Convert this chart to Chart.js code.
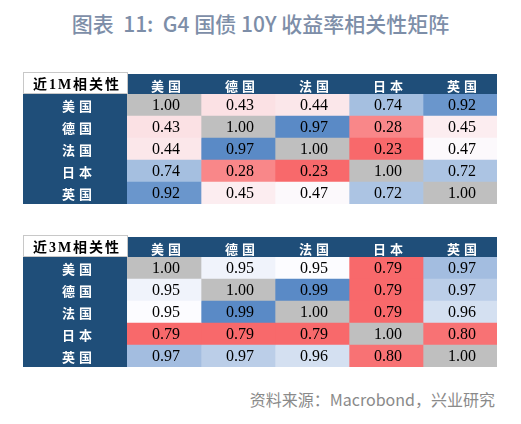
<!DOCTYPE html>
<html>
<head>
<meta charset="utf-8">
<script src="https://cdn.jsdelivr.net/npm/chart.js@4.4.0/dist/chart.umd.min.js"></script>
<style>
body { margin: 0; width: 521px; height: 424px; background: #fff; position: relative; overflow: hidden; font-family: "Noto Sans CJK SC", sans-serif; }
#title { position: absolute; left: 0; width: 521px; top: 8px; text-align: center; font-size: 21px; color: #7d8ea8; font-weight: 500; white-space: pre; }
#source { position: absolute; right: 26px; top: 387px; font-size: 16px; color: #8a8a8a; }
canvas { position: absolute; left: 0; }
#c1 { top: 70px; }
#c2 { top: 233px; }
</style>
</head>
<body>
<div id="title">图表  11:  G4 国债 10Y 收益率相关性矩阵</div>
<canvas id="c1" width="521" height="136"></canvas>
<canvas id="c2" width="521" height="136"></canvas>
<div id="source">资料来源：Macrobond，兴业研究</div>
<script>
var countries = ['美国', '德国', '法国', '日本', '英国'];

// rows / columns follow countries
var corr1M = [
    [1.00, 0.43, 0.44, 0.74, 0.92],
    [0.43, 1.00, 0.97, 0.28, 0.45],
    [0.44, 0.97, 1.00, 0.23, 0.47],
    [0.74, 0.28, 0.23, 1.00, 0.72],
    [0.92, 0.45, 0.47, 0.72, 1.00]
];
var corr3M = [
    [1.00, 0.953, 0.950, 0.79, 0.972],
    [0.953, 1.00, 0.99, 0.79, 0.966],
    [0.950, 0.99, 1.00, 0.79, 0.96],
    [0.79, 0.79, 0.79, 1.00, 0.80],
    [0.972, 0.966, 0.96, 0.80, 1.00]
];

var navy = '#1f4e79';
var red = [248, 105, 107], white = [252, 252, 255], blue = [90, 138, 198];

function mix(a, b, t) {
    t = Math.max(0, Math.min(1, t));
    return 'rgb(' + a.map(function (v, i) { return Math.round(v + (b[i] - v) * t); }).join(',') + ')';
}
function heat(v, lo, mid, hi) {
    if (v >= 0.999) return '#bfbfbf';
    if (v < mid) return mix(white, red, (mid - v) / (mid - lo));
    return mix(white, blue, (v - mid) / (hi - mid));
}
function noPad(s) {
    s.paddingTop = 0; s.paddingBottom = 0; s.paddingLeft = 0; s.paddingRight = 0;
}

var tablePlugin = {
    id: 'tableDeco',
    beforeDraw: function (chart) {
        var c = chart.ctx, a = chart.chartArea;
        var ys = chart.scales.y, hs = chart.scales.xh;
        c.save();
        c.fillStyle = navy;
        c.fillRect(ys.left, a.top, ys.width, a.bottom - a.top);
        c.fillRect(a.left, hs.top, a.right - a.left, hs.height);
        c.fillStyle = '#fff';
        c.fillRect(ys.left, hs.top - 2, ys.width, hs.height + 2);
        c.strokeStyle = '#c8c8c8';
        c.lineWidth = 1;
        c.strokeRect(ys.left + 0.5, hs.top - 1.5, ys.width, hs.height + 1);
        c.fillStyle = '#000';
        c.font = 'bold 14px "Liberation Serif", "Noto Sans CJK SC"';
        c.letterSpacing = '2px';
        c.textAlign = 'center';
        c.textBaseline = 'middle';
        c.fillText(chart.options.plugins.tableDeco.corner, ys.left + ys.width / 2 + 2, hs.top + hs.height / 2 + 1);
        c.restore();
        // spaced header / row labels, as in the source table
        c.letterSpacing = '4px';
    },
    beforeDatasetsDraw: function (chart) {
        chart.ctx.letterSpacing = '0px';
    },
    afterDatasetsDraw: function (chart) {
        var c = chart.ctx;
        var m = chart.options.plugins.tableDeco.matrix;
        c.save();
        c.fillStyle = '#000';
        c.font = '16px "Liberation Serif"';
        c.textAlign = 'center';
        c.textBaseline = 'middle';
        chart.data.datasets.forEach(function (ds, j) {
            chart.getDatasetMeta(j).data.forEach(function (bar, i) {
                c.fillText(m[i][j].toFixed(2), (bar.x + bar.base) / 2 + 2, bar.y + 1);
            });
        });
        c.restore();
    }
};

function makeTable(id, matrix, corner, lo, mid, hi) {
    var datasets = countries.map(function (col, j) {
        return {
            label: col,
            data: countries.map(function () { return 1; }),
            backgroundColor: function (ctx) { return heat(matrix[ctx.dataIndex][j], lo, mid, hi); },
            borderWidth: 0,
            barPercentage: 1,
            categoryPercentage: 1
        };
    });
    var labelFont = { size: 13, weight: 'bold', family: '"Noto Sans CJK SC"' };
    return new Chart(document.getElementById(id).getContext('2d'), {
        type: 'bar',
        data: { labels: countries, datasets: datasets },
        plugins: [tablePlugin],
        options: {
            indexAxis: 'y',
            responsive: false,
            animation: false,
            layout: { padding: { left: 23, right: 24, top: 4, bottom: 2 } },
            scales: {
                x: { stacked: true, min: 0, max: 5, display: false },
                xh: {
                    type: 'category',
                    labels: countries,
                    position: 'top',
                    offset: true,
                    grid: { display: false, drawTicks: false },
                    border: { display: false },
                    ticks: { color: '#fff', padding: 0, labelOffset: 4, font: labelFont },
                    afterFit: function (s) { s.height = 20; noPad(s); }
                },
                y: {
                    stacked: true,
                    grid: { display: false, drawTicks: false },
                    border: { display: false },
                    ticks: { color: '#fff', crossAlign: 'center', padding: 35, labelOffset: 1, font: labelFont },
                    afterFit: function (s) { s.width = 104; noPad(s); }
                }
            },
            plugins: {
                legend: { display: false },
                tooltip: { enabled: false },
                tableDeco: { matrix: matrix, corner: corner }
            }
        }
    });
}

makeTable('c1', corr1M, '近1M相关性', 0.23, 0.475, 0.97);
makeTable('c2', corr3M, '近3M相关性', 0.79, 0.95, 0.99);
</script>
</body>
</html>
